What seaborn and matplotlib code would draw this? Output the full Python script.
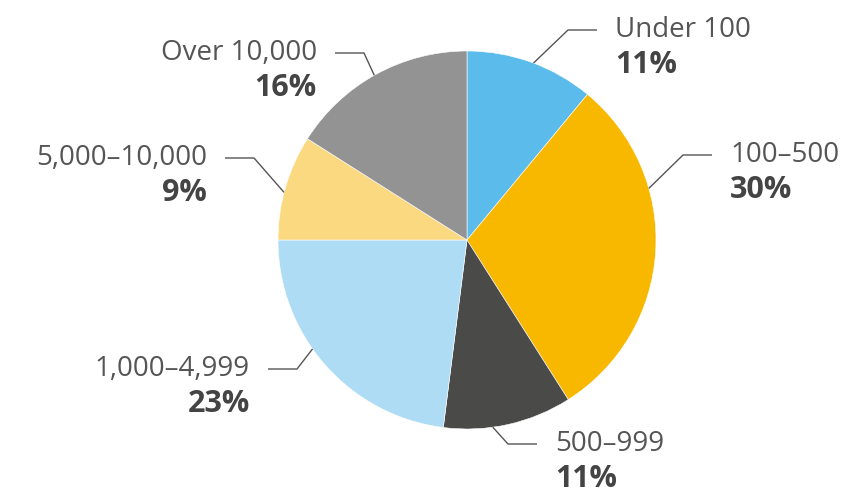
import numpy as np
import matplotlib
matplotlib.use("Agg")
import matplotlib.pyplot as plt
import seaborn as sns

# Share of organisations by size band
categories = ["Under 100", "100–500", "500–999", "1,000–4,999", "5,000–10,000", "Over 10,000"]
shares = [11, 30, 11, 23, 9, 16]
colors = ["#5BBCEB", "#F9B800", "#4A4A48", "#ADDCF4", "#FBD980", "#939393"]

# Label layout (pixel coordinates, y measured from the top), text side and
# where along each wedge's arc the leader line touches (0 = start, 1 = end)
label_pos = [(615, 30), (730, 155), (555, 444), (250, 369), (207, 158), (317, 53)]
label_side = ["right", "right", "right", "left", "left", "left"]
arc_frac = [0.52, 0.32, 0.62, 0.575, 0.45, 0.49]

W, H = 852, 498
sns.set_theme(style="white")
plt.rcParams["font.family"] = ["Open Sans", "DejaVu Sans"]

fig = plt.figure(figsize=(W / 100, H / 100), dpi=100)
ax = fig.add_axes([0, 0, 1, 1])

cx, cy, r = 467, H - 240, 189
wedges, _ = ax.pie(shares, colors=colors, startangle=90, counterclock=False,
                   center=(cx, cy), radius=r,
                   wedgeprops=dict(linewidth=0.4, edgecolor="white"))
ax.set_xlim(0, W)
ax.set_ylim(0, H)
ax.set_aspect("equal")
ax.axis("off")

line_col = "#555555"
name_col = "#555555"
pct_col = "#444444"
gap, elbow = 18, 29

for w, name, val, (tx, ty), side, f in zip(wedges, categories, shares,
                                           label_pos, label_side, arc_frac):
    # wedges run clockwise, so theta2 is where each one begins
    ang = np.deg2rad(w.theta2 - (w.theta2 - w.theta1) * f)
    ex, ey = cx + r * np.cos(ang), cy + r * np.sin(ang)
    y = H - ty
    if side == "right":
        end_x = tx - gap
        elb_x = end_x - elbow
        ha = "left"
    else:
        end_x = tx + gap
        elb_x = end_x + elbow
        ha = "right"
    ax.plot([ex, elb_x, end_x], [ey, y, y], color=line_col, lw=1.0,
            solid_capstyle="butt", clip_on=False)
    ax.text(tx, y, name, ha=ha, va="center", fontsize=20, color=name_col)
    ax.text(tx, y - 35, f"{val}%", ha=ha, va="center", fontsize=22,
            fontweight="bold", color=pct_col)

fig.savefig("out.png", dpi=100, facecolor="white")
